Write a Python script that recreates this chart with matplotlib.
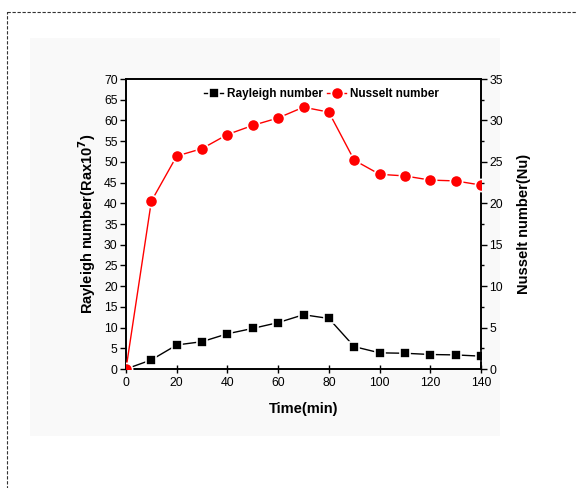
import matplotlib
matplotlib.use("Agg")
import matplotlib.pyplot as plt
from matplotlib.patches import Rectangle

plt.rcParams['font.family'] = ['Liberation Sans', 'DejaVu Sans']

time_min = [0, 10, 20, 30, 40, 50, 60, 70, 80, 90, 100, 110, 120, 130, 140]
rayleigh = [0, 2.2, 5.8, 6.6, 8.5, 9.8, 11.2, 13.1, 12.2, 5.4, 3.9, 3.8, 3.5, 3.4, 3.1]
nusselt = [0, 20.25, 25.7, 26.6, 28.3, 29.4, 30.3, 31.6, 31.0, 25.2, 23.5, 23.3, 22.8, 22.7, 22.2]
x_ticks = [0, 20, 40, 60, 80, 100, 120, 140]
left_ticks = list(range(0, 71, 5))
right_ticks = list(range(0, 36, 5))

W, H = 577, 488
fig = plt.figure(figsize=(W / 100, H / 100), dpi=100)
fig.patch.set_facecolor('white')

# background layer: light panel and dashed frame
bg = fig.add_axes([0, 0, 1, 1], zorder=-5)
bg.set_xlim(0, W)
bg.set_ylim(H, 0)
bg.axis('off')
bg.add_patch(Rectangle((30, 38), 470, 398, facecolor='#f9f9f9', edgecolor='none'))
bg.add_patch(Rectangle((7, 12), 600, 520, facecolor='none', edgecolor='#333333',
                       linewidth=0.8, linestyle=(0, (3, 1.5)), clip_on=False))

ax = fig.add_axes([126 / W, 1 - 369 / H, 355 / W, 290 / H])
ax.set_facecolor('white')
ax2 = ax.twinx()

# white marker edges leave a small gap between line and symbol
l1, = ax.plot(time_min, rayleigh, color='black', marker='s', markersize=7.2,
              markerfacecolor='black', markeredgecolor='white', markeredgewidth=1.2,
              linewidth=1.0, label='Rayleigh number', zorder=3)
l2, = ax2.plot(time_min, nusselt, color='#ff0000', marker='o', markersize=8.8,
               markerfacecolor='#ff0000', markeredgecolor='white', markeredgewidth=1.2,
               linewidth=1.0, label='Nusselt number', zorder=3)

ax.set_xlim(0, 140)
ax.set_ylim(0, 70)
ax2.set_ylim(0, 35)
ax.set_xticks(x_ticks)
ax.set_yticks(left_ticks)
ax2.set_yticks(right_ticks)
ax2.set_yticks([v + 2.5 for v in right_ticks[:-1]], minor=True)

for a in (ax, ax2):
    for s in a.spines.values():
        s.set_linewidth(1.2)
ax.tick_params(axis='y', direction='out', length=4, width=1, labelsize=8.8, pad=2)
ax.tick_params(axis='x', direction='inout', length=6, width=1, labelsize=8.8, pad=3)
ax2.tick_params(axis='y', which='major', direction='out', length=4, width=1,
                labelsize=8.8, pad=2)
ax2.tick_params(axis='y', which='minor', direction='out', length=2.5, width=1)

ax.set_xlabel('Time(min)', fontsize=10.5, fontweight='bold', labelpad=9)
ax.set_ylabel('Rayleigh number(Rax10$^{\\mathbf{7}}$)', fontsize=10.5,
              fontweight='bold', labelpad=4)
ax2.set_ylabel('Nusselt number(Nu)', fontsize=10.5, fontweight='bold', labelpad=10)

ax2.legend(handles=[l1, l2], loc='upper center', bbox_to_anchor=(0.55, 1.0),
           ncol=2, frameon=False, handlelength=1.6,
           handletextpad=0.3, columnspacing=0.4, borderaxespad=0.4,
           prop={'weight': 'bold', 'size': 8.5})

fig.savefig('out.png', dpi=100)
